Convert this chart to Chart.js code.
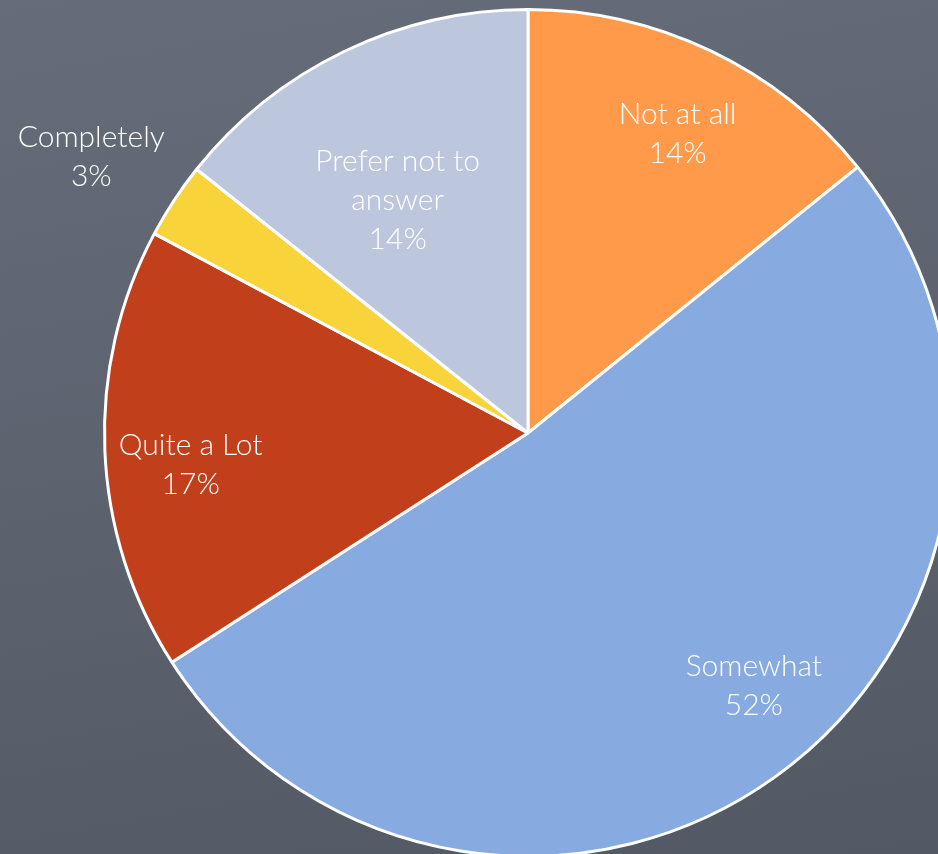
<!DOCTYPE html>
<html>
<head>
<meta charset="utf-8">
<script src="https://cdn.jsdelivr.net/npm/chart.js@4/dist/chart.umd.min.js"></script>
<style>
  html, body { margin: 0; padding: 0; }
  body {
    width: 938px; height: 854px; overflow: hidden; position: relative;
    background: linear-gradient(170deg, #666d7a 0%, #5d6470 45%, #525864 100%);
  }
  #wrap { position: absolute; left: 0; top: 8px; width: 1056px; height: 850px; }
</style>
</head>
<body>
<div id="wrap"><canvas id="pie" width="1056" height="850"></canvas></div>
<script>
// values, clockwise from 12 o'clock
const categories = ['Not at all', 'Somewhat', 'Quite a Lot', 'Completely', 'Prefer not to answer'];
const shares = [14.2, 51.7, 16.9, 2.9, 14.3];
const sliceColors = ['#ff9a4a', '#87aae0', '#c13f1a', '#f8d43a', '#bcc6dd'];

// label text lines (category split as in the picture)
const labelLines = [['Not at all'], ['Somewhat'], ['Quite a Lot'], ['Completely'], ['Prefer not to', 'answer']];

// where each label sits: fraction of radius, and angle nudge in degrees
const labelPlace = [
  {r: 0.79, a: 1},
  {r: 0.80, a: -6},
  {r: 0.80, a: -3},
  {r: 1.22, a: -1},
  {r: 0.63, a: -3.5}
];

const pieLabels = {
  id: 'pieLabels',
  afterDatasetsDraw(chart) {
    const ctx = chart.ctx;
    const arcs = chart.getDatasetMeta(0).data;
    const total = shares.reduce((s, v) => s + v, 0);
    ctx.save();
    ctx.font = '300 30px Lato';
    ctx.fillStyle = '#ffffff';
    ctx.textAlign = 'center';
    ctx.textBaseline = 'middle';
    arcs.forEach((arc, i) => {
      const p = arc.getProps(['x', 'y', 'startAngle', 'endAngle', 'outerRadius']);
      const mid = (p.startAngle + p.endAngle) / 2 + labelPlace[i].a * Math.PI / 180;
      const rr = p.outerRadius * labelPlace[i].r;
      const cx = p.x + Math.cos(mid) * rr;
      const cy = p.y + Math.sin(mid) * rr;
      const lines = labelLines[i].concat([Math.round(shares[i] / total * 100) + '%']);
      const lh = 39;
      const top = cy - (lines.length - 1) * lh / 2;
      lines.forEach((t, k) => ctx.fillText(t, cx, top + k * lh));
    });
    ctx.restore();
  }
};

new Chart(document.getElementById('pie'), {
  type: 'pie',
  data: {
    labels: categories,
    datasets: [{
      data: shares,
      backgroundColor: sliceColors,
      borderColor: '#ffffff',
      borderWidth: 3
    }]
  },
  options: {
    responsive: false,
    animation: false,
    devicePixelRatio: 1,
    layout: { padding: 0 },
    plugins: {
      legend: { display: false },
      tooltip: { enabled: false }
    }
  },
  plugins: [pieLabels]
});
</script>
</body>
</html>
